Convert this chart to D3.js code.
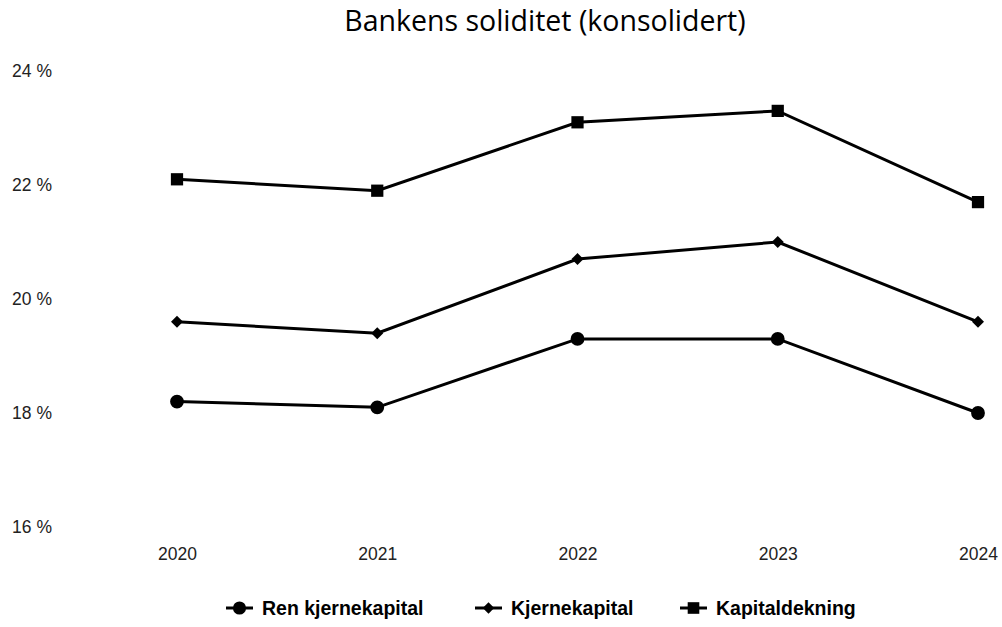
<!DOCTYPE html>
<html>
<head>
<meta charset="utf-8">
<script src="https://cdn.jsdelivr.net/npm/d3@7"></script>
<style>
  body { margin: 0; background: #fff; }
  .tick text { font-family: "Liberation Sans", Arial, sans-serif; font-size: 17.5px; fill: #222; }
</style>
</head>
<body>
<script>
// data
var years = ["2020", "2021", "2022", "2023", "2024"];
var renKjernekapital = [18.2, 18.1, 19.3, 19.3, 18.0];
var kjernekapital = [19.6, 19.4, 20.7, 21.0, 19.6];
var kapitaldekning = [22.1, 21.9, 23.1, 23.3, 21.7];
var yTicks = [16, 18, 20, 22, 24];
var seriesNames = ["Ren kjernekapital", "Kjernekapital", "Kapitaldekning"];

var width = 1002, height = 627;

var svg = d3.select("body").append("svg")
  .attr("width", width)
  .attr("height", height);

// title
svg.append("text")
  .attr("x", 545).attr("y", 31)
  .attr("text-anchor", "middle")
  .style("font-family", "'Open Sans', sans-serif")
  .style("font-size", "28.5px")
  .style("fill", "#000")
  .text("Bankens soliditet (konsolidert)");

// scales
var x = d3.scalePoint().domain(years).range([177, 978]);
var y = d3.scaleLinear().domain([16, 24]).range([527, 71]);

// y axis (only labels)
var yAxis = svg.append("g")
  .attr("transform", "translate(52,0)")
  .call(d3.axisLeft(y).tickValues(yTicks).tickSize(0).tickFormat(function(d){ return d + " %"; }));
yAxis.select(".domain").remove();
yAxis.selectAll("text").attr("text-anchor", "end").attr("x", 0);

// x axis (only labels)
var xAxis = svg.append("g")
  .attr("transform", "translate(0,545)")
  .call(d3.axisBottom(x).tickSize(0));
xAxis.select(".domain").remove();

var series = [
  { name: seriesNames[0], values: renKjernekapital, symbol: d3.symbolCircle, size: 150, rot: 0 },
  { name: seriesNames[1], values: kjernekapital, symbol: d3.symbolSquare, size: 72, rot: 45 },
  { name: seriesNames[2], values: kapitaldekning, symbol: d3.symbolSquare, size: 150, rot: 0 }
];

var line = d3.line()
  .x(function(d, i){ return x(years[i]); })
  .y(function(d){ return y(d); });

series.forEach(function(s) {
  svg.append("path")
    .datum(s.values)
    .attr("d", line)
    .attr("fill", "none")
    .attr("stroke", "#000")
    .attr("stroke-width", 3);

  svg.selectAll(null)
    .data(s.values)
    .enter().append("path")
    .attr("d", d3.symbol().type(s.symbol).size(s.size))
    .attr("transform", function(d, i){ return "translate(" + x(years[i]) + "," + y(d) + ") rotate(" + s.rot + ")"; })
    .attr("fill", "#000");
});

// legend
var legendX = [226, 475, 680];
var legend = svg.selectAll(".legend")
  .data(series)
  .enter().append("g")
  .attr("transform", function(d, i){ return "translate(" + legendX[i] + ",608)"; });

legend.append("line")
  .attr("x1", 0).attr("x2", 27)
  .attr("stroke", "#000").attr("stroke-width", 3);
legend.append("path")
  .attr("transform", function(d){ return "translate(13.5,0) rotate(" + d.rot + ")"; })
  .attr("d", function(d){ return d3.symbol().type(d.symbol).size(d.size * 0.9)(); })
  .attr("fill", "#000");
legend.append("text")
  .attr("x", 36).attr("y", 7)
  .style("font-family", "'Liberation Sans', Arial, sans-serif")
  .style("font-weight", "bold")
  .style("font-size", "19.5px")
  .text(function(d){ return d.name; });
</script>
</body>
</html>
